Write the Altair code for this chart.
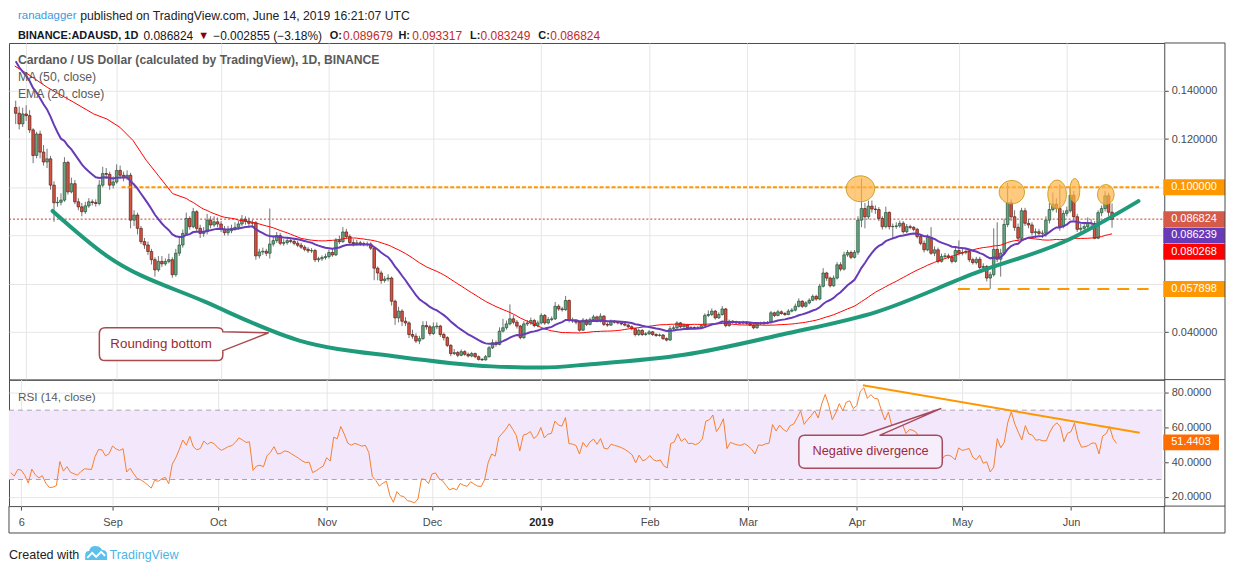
import altair as alt
import pandas as pd

FONT = "Liberation Sans, Arial, sans-serif"
W, H_MAIN, H_RSI = 1160, 338, 127
X_OUT = 1221
FRAME = "#4a4a4a"
GRID = "#e6e6e6"
AXIS_TXT = "#4a4a4a"

# ---------------- data ----------------
first_open = 0.1331
closes = [
    0.1307, 0.1263, 0.1304, 0.1297, 0.1238, 0.1132, 0.1221, 0.1146, 0.1105, 0.1118,
    0.1009, 0.0936, 0.0938, 0.0947, 0.1103, 0.0981, 0.1015, 0.0940, 0.0919, 0.0899,
    0.0923, 0.0940, 0.0937, 0.0933, 0.1009, 0.1057, 0.1054, 0.1009, 0.1022, 0.1070,
    0.1050, 0.1040, 0.1050, 0.0864, 0.0885, 0.0830, 0.0775, 0.0761, 0.0734, 0.0700,
    0.0658, 0.0693, 0.0683, 0.0693, 0.0700, 0.0638, 0.0727, 0.0761, 0.0809, 0.0871,
    0.0837, 0.0899, 0.0830, 0.0809, 0.0816, 0.0864, 0.0844, 0.0857, 0.0848, 0.0826,
    0.0812, 0.0820, 0.0830, 0.0834, 0.0848, 0.0868, 0.0860, 0.0851, 0.0853, 0.0716,
    0.0732, 0.0735, 0.0727, 0.0765, 0.0779, 0.0800, 0.0768, 0.0771, 0.0779, 0.0776,
    0.0768, 0.0760, 0.0752, 0.0743, 0.0737, 0.0738, 0.0700, 0.0704, 0.0709, 0.0713,
    0.0730, 0.0720, 0.0779, 0.0775, 0.0815, 0.0796, 0.0771, 0.0765, 0.0770, 0.0767,
    0.0763, 0.0765, 0.0748, 0.0665, 0.0645, 0.0614, 0.0620, 0.0624, 0.0528, 0.0459,
    0.0487, 0.0445, 0.0438, 0.0390, 0.0383, 0.0363, 0.0373, 0.0427, 0.0422, 0.0394,
    0.0422, 0.0425, 0.0390, 0.0377, 0.0345, 0.0311, 0.0315, 0.0304, 0.0319, 0.0308,
    0.0301, 0.0311, 0.0298, 0.0287, 0.0285, 0.0298, 0.0335, 0.0356, 0.0349, 0.0404,
    0.0418, 0.0434, 0.0455, 0.0441, 0.0425, 0.0377, 0.0434, 0.0438, 0.0448, 0.0427,
    0.0438, 0.0469, 0.0438, 0.0452, 0.0455, 0.0507, 0.0496, 0.0493, 0.0531, 0.0448,
    0.0446, 0.0441, 0.0408, 0.0450, 0.0432, 0.0452, 0.0463, 0.0445, 0.0466, 0.0432,
    0.0429, 0.0445, 0.0441, 0.0438, 0.0434, 0.0429, 0.0422, 0.0414, 0.0390, 0.0407,
    0.0390, 0.0393, 0.0401, 0.0390, 0.0386, 0.0388, 0.0373, 0.0367, 0.0414, 0.0418,
    0.0438, 0.0422, 0.0429, 0.0418, 0.0419, 0.0416, 0.0419, 0.0427, 0.0469, 0.0473,
    0.0487, 0.0459, 0.0473, 0.0496, 0.0427, 0.0445, 0.0441, 0.0438, 0.0437, 0.0441,
    0.0436, 0.0429, 0.0418, 0.0436, 0.0435, 0.0438, 0.0439, 0.0480, 0.0469, 0.0484,
    0.0477, 0.0473, 0.0487, 0.0491, 0.0507, 0.0528, 0.0507, 0.0521, 0.0532, 0.0548,
    0.0537, 0.0590, 0.0645, 0.0624, 0.0592, 0.0624, 0.0679, 0.0661, 0.0720, 0.0730,
    0.0710, 0.0731, 0.0864, 0.0912, 0.0878, 0.0922, 0.0910, 0.0908, 0.0871, 0.0837,
    0.0896, 0.0837, 0.0838, 0.0840, 0.0851, 0.0816, 0.0837, 0.0834, 0.0826, 0.0796,
    0.0768, 0.0741, 0.0793, 0.0727, 0.0741, 0.0693, 0.0713, 0.0716, 0.0710, 0.0693,
    0.0738, 0.0727, 0.0730, 0.0734, 0.0700, 0.0688, 0.0702, 0.0668, 0.0672, 0.0624,
    0.0638, 0.0743, 0.0702, 0.0727, 0.0846, 0.0936, 0.0878, 0.0834, 0.0789, 0.0903,
    0.0851, 0.0844, 0.0812, 0.0816, 0.0809, 0.0810, 0.0864, 0.0908, 0.0930, 0.0912,
    0.0837, 0.0892, 0.0903, 0.0967, 0.0878, 0.0826, 0.0830, 0.0837, 0.0851, 0.0850,
    0.0789, 0.0895, 0.0912, 0.0965, 0.089679, 0.086824,
]
highs = [
    0.1359, 0.1335, 0.1330, 0.1340, 0.1320, 0.1245, 0.1230, 0.1235, 0.1175, 0.1160,
    0.1130, 0.1025, 0.0960, 0.0975, 0.1125, 0.1110, 0.1040, 0.1030, 0.0955, 0.0935,
    0.0940, 0.0955, 0.0950, 0.0950, 0.1030, 0.1085, 0.1080, 0.1065, 0.1045, 0.1095,
    0.1090, 0.1065, 0.1070, 0.1060, 0.0905, 0.0895, 0.0840, 0.0790, 0.0775, 0.0745,
    0.0710, 0.0715, 0.0715, 0.0705, 0.0725, 0.0710, 0.0745, 0.0790, 0.0825, 0.0895,
    0.0880, 0.0915, 0.0905, 0.0845, 0.0835, 0.0890, 0.0880, 0.0880, 0.0875, 0.0860,
    0.0840, 0.0840, 0.0845, 0.0855, 0.0860, 0.0885, 0.0880, 0.0875, 0.0865, 0.0860,
    0.0745, 0.0750, 0.0745, 0.0912, 0.0800, 0.0815, 0.0810, 0.0785, 0.0790, 0.0790,
    0.0785, 0.0778, 0.0770, 0.0760, 0.0752, 0.0748, 0.0745, 0.0712, 0.0718, 0.0725,
    0.0742, 0.0745, 0.0790, 0.0800, 0.0835, 0.0828, 0.0805, 0.0785, 0.0782, 0.0778,
    0.0775, 0.0775, 0.0772, 0.0752, 0.0672, 0.0655, 0.0632, 0.0640, 0.0630, 0.0535,
    0.0505, 0.0495, 0.0462, 0.0445, 0.0410, 0.0395, 0.0385, 0.0445, 0.0445, 0.0430,
    0.0440, 0.0440, 0.0430, 0.0398, 0.0383, 0.0350, 0.0330, 0.0322, 0.0328, 0.0325,
    0.0315, 0.0318, 0.0315, 0.0303, 0.0292, 0.0305, 0.0342, 0.0370, 0.0365, 0.0420,
    0.0455, 0.0448, 0.0515, 0.0470, 0.0450, 0.0430, 0.0445, 0.0450, 0.0460, 0.0455,
    0.0448, 0.0478, 0.0475, 0.0462, 0.0465, 0.0525, 0.0515, 0.0505, 0.0550, 0.0535,
    0.0460, 0.0452, 0.0445, 0.0458, 0.0455, 0.0460, 0.0472, 0.0468, 0.0478, 0.0470,
    0.0440, 0.0452, 0.0450, 0.0446, 0.0443, 0.0440, 0.0434, 0.0428, 0.0418, 0.0415,
    0.0412, 0.0400, 0.0408, 0.0405, 0.0395, 0.0394, 0.0392, 0.0378, 0.0425, 0.0428,
    0.0445, 0.0442, 0.0436, 0.0434, 0.0425, 0.0424, 0.0425, 0.0434, 0.0478, 0.0490,
    0.0498, 0.0492, 0.0482, 0.0508, 0.0500, 0.0452, 0.0450, 0.0447, 0.0445, 0.0447,
    0.0446, 0.0440, 0.0432, 0.0442, 0.0443, 0.0445, 0.0446, 0.0488, 0.0485, 0.0492,
    0.0490, 0.0483, 0.0495, 0.0500, 0.0518, 0.0540, 0.0532, 0.0528, 0.0540, 0.0556,
    0.0555, 0.0600, 0.0665, 0.0650, 0.0630, 0.0635, 0.0690, 0.0690, 0.0733, 0.0740,
    0.0738, 0.0740, 0.0880, 0.1036, 0.0935, 0.0945, 0.0945, 0.0925, 0.0918, 0.0880,
    0.0920, 0.0900, 0.0850, 0.0855, 0.0862, 0.0860, 0.0848, 0.0845, 0.0840, 0.0832,
    0.0805, 0.0780, 0.0805, 0.0835, 0.0755, 0.0750, 0.0725, 0.0728, 0.0725, 0.0720,
    0.0752, 0.0780, 0.0745, 0.0745, 0.0740, 0.0708, 0.0712, 0.0712, 0.0685, 0.0678,
    0.0650, 0.0830, 0.0855, 0.0745, 0.0870, 0.1018, 0.0950, 0.0905, 0.0850, 0.0915,
    0.0915, 0.0870, 0.0855, 0.0830, 0.0828, 0.0822, 0.0880, 0.0935, 0.0978, 0.0955,
    0.1012, 0.0905, 0.0920, 0.1000, 0.0985, 0.0890, 0.0848, 0.0855, 0.0875, 0.0868,
    0.0860, 0.0905, 0.0925, 0.0985, 0.0978, 0.093317,
]
lows = [
    0.1262, 0.1240, 0.1250, 0.1275, 0.1225, 0.1100, 0.1120, 0.1120, 0.1090, 0.1080,
    0.0990, 0.0857, 0.0920, 0.0925, 0.0940, 0.0970, 0.0975, 0.0930, 0.0905, 0.0880,
    0.0890, 0.0915, 0.0925, 0.0920, 0.0925, 0.1000, 0.1035, 0.0990, 0.0995, 0.1015,
    0.1035, 0.1025, 0.1030, 0.0830, 0.0840, 0.0805, 0.0765, 0.0745, 0.0720, 0.0680,
    0.0630, 0.0650, 0.0670, 0.0675, 0.0685, 0.0625, 0.0630, 0.0715, 0.0750, 0.0800,
    0.0825, 0.0830, 0.0815, 0.0790, 0.0795, 0.0805, 0.0830, 0.0835, 0.0835, 0.0815,
    0.0800, 0.0800, 0.0810, 0.0820, 0.0825, 0.0840, 0.0845, 0.0840, 0.0840, 0.0700,
    0.0705, 0.0720, 0.0715, 0.0705, 0.0755, 0.0770, 0.0760, 0.0758, 0.0762, 0.0768,
    0.0760, 0.0752, 0.0745, 0.0735, 0.0728, 0.0728, 0.0690, 0.0690, 0.0695, 0.0700,
    0.0705, 0.0712, 0.0715, 0.0765, 0.0770, 0.0785, 0.0760, 0.0755, 0.0758, 0.0758,
    0.0755, 0.0755, 0.0740, 0.0615, 0.0615, 0.0600, 0.0605, 0.0610, 0.0510, 0.0430,
    0.0440, 0.0425, 0.0425, 0.0375, 0.0372, 0.0355, 0.0350, 0.0368, 0.0410, 0.0385,
    0.0388, 0.0412, 0.0380, 0.0365, 0.0338, 0.0300, 0.0305, 0.0296, 0.0300, 0.0302,
    0.0295, 0.0296, 0.0292, 0.0282, 0.0280, 0.0282, 0.0295, 0.0330, 0.0340, 0.0345,
    0.0398, 0.0410, 0.0428, 0.0432, 0.0415, 0.0370, 0.0372, 0.0425, 0.0430, 0.0420,
    0.0420, 0.0432, 0.0430, 0.0432, 0.0445, 0.0450, 0.0488, 0.0485, 0.0488, 0.0440,
    0.0438, 0.0432, 0.0402, 0.0405, 0.0425, 0.0428, 0.0448, 0.0440, 0.0440, 0.0425,
    0.0422, 0.0425, 0.0435, 0.0432, 0.0428, 0.0424, 0.0416, 0.0408, 0.0382, 0.0384,
    0.0384, 0.0385, 0.0388, 0.0384, 0.0380, 0.0381, 0.0368, 0.0362, 0.0365, 0.0408,
    0.0412, 0.0416, 0.0418, 0.0412, 0.0413, 0.0411, 0.0412, 0.0414, 0.0424, 0.0462,
    0.0466, 0.0452, 0.0455, 0.0468, 0.0420, 0.0422, 0.0435, 0.0433, 0.0432, 0.0432,
    0.0430, 0.0424, 0.0412, 0.0414, 0.0430, 0.0430, 0.0432, 0.0435, 0.0462, 0.0465,
    0.0472, 0.0467, 0.0470, 0.0482, 0.0486, 0.0502, 0.0500, 0.0502, 0.0515, 0.0528,
    0.0530, 0.0532, 0.0585, 0.0612, 0.0585, 0.0588, 0.0618, 0.0652, 0.0655, 0.0712,
    0.0702, 0.0705, 0.0720, 0.0835, 0.0830, 0.0868, 0.0895, 0.0890, 0.0860, 0.0825,
    0.0830, 0.0825, 0.0785, 0.0828, 0.0832, 0.0808, 0.0810, 0.0826, 0.0818, 0.0788,
    0.0760, 0.0730, 0.0735, 0.0720, 0.0715, 0.0685, 0.0688, 0.0705, 0.0702, 0.0685,
    0.0688, 0.0718, 0.0718, 0.0722, 0.0690, 0.0680, 0.0680, 0.0660, 0.0655, 0.0610,
    0.0579, 0.0630, 0.0690, 0.0630, 0.0720, 0.0835, 0.0860, 0.0820, 0.0775, 0.0780,
    0.0840, 0.0830, 0.0800, 0.0790, 0.0800, 0.0790, 0.0795, 0.0850, 0.0900, 0.0895,
    0.0820, 0.0830, 0.0880, 0.0895, 0.0865, 0.0815, 0.0815, 0.0815, 0.0830, 0.0838,
    0.0785, 0.0785, 0.0880, 0.0900, 0.0880, 0.083249,
]
first_date = "2018-08-03"

ema_seed = 0.1545
sma_early_dates = ["2018-08-02T17:00:00Z", "2018-08-06T12:00:00Z", "2018-08-12T02:00:00Z",
                   "2018-08-19T17:00:00Z", "2018-08-25T10:00:00Z", "2018-08-29T05:00:00Z",
                   "2018-09-01T22:00:00Z", "2018-09-05T17:00:00Z", "2018-09-09T12:00:00Z",
                   "2018-09-13T07:00:00Z", "2018-09-17T02:00:00Z"]
sma_early_vals = [0.1503, 0.1469, 0.1414, 0.1352, 0.1304, 0.1283, 0.1249, 0.1194, 0.1112, 0.1043, 0.0974]
rsi_seed_gain, rsi_seed_loss = 0.0020, 0.0037

# rounding-bottom curve
curve_dates = ["2018-08-13T14:00:00Z", "2018-08-29T04:00:00Z", "2018-09-26T12:00:00Z",
               "2018-10-23T12:00:00Z", "2018-11-20T20:00:00Z", "2018-12-17T19:00:00Z",
               "2019-01-01T00:00:00Z", "2019-01-15T05:00:00Z", "2019-02-11T02:00:00Z",
               "2019-03-11T12:00:00Z", "2019-04-07T10:00:00Z", "2019-05-05T19:00:00Z",
               "2019-06-01T19:00:00Z", "2019-06-21T14:00:00Z"]
curve_prices = [0.0902, 0.0716, 0.0525, 0.0365, 0.0298, 0.0258, 0.0253, 0.0267, 0.0306,
                0.0391, 0.0484, 0.0645, 0.0785, 0.0943]

# highlighted tops
top_dates = ["2019-04-02T17:00:00Z", "2019-05-16T05:00:00Z", "2019-05-29T05:00:00Z",
             "2019-06-03T07:00:00Z", "2019-06-12T05:00:00Z"]
top_prices = [0.0994, 0.0980, 0.0971, 0.0987, 0.0970]
top_rx = [14.3, 12.7, 9.3, 5.0, 8.3]      # style: ellipse radii in px
top_ry = [13.0, 11.7, 14.3, 12.0, 10.0]

# levels and tags
resistance = 0.10
resistance_span = ["2018-09-02T10:00:00Z", "2019-06-27T12:00:00Z"]
support = 0.057898
support_span = ["2019-04-30T17:00:00Z", "2019-06-24T12:00:00Z"]
last_close = 0.086824
ema_last = 0.086239
sma_last = 0.080268
rsi_last = 51.4403
rsi_trend_dates = ["2019-04-02T17:00:00Z", "2019-06-20T14:00:00Z"]
rsi_trend_vals = [84.4, 57.0]

rb_anchor = ("2018-09-13T18:30:00Z", 0.0352)
nd_anchor = ("2019-04-04T22:00:00Z", 46.3)

tick_dates = ["2018-08-06", "2018-09-01", "2018-10-01", "2018-11-01", "2018-12-01",
              "2019-01-01", "2019-02-01", "2019-03-01", "2019-04-01", "2019-05-01", "2019-06-01"]

# ---------------- derived tables ----------------
dates = list(pd.date_range(first_date, periods=len(closes), freq="D").strftime("%Y-%m-%d"))
opens = [first_open] + closes[:-1]
candles = pd.DataFrame({"date": dates, "open": opens, "close": closes, "high": highs, "low": lows})
candles["high"] = candles[["high", "open", "close"]].max(axis=1)
candles["low"] = candles[["low", "open", "close"]].min(axis=1)

alpha = 2.0 / 21.0
ema, prev = [], ema_seed
for c in closes:
    prev = prev + alpha * (c - prev)
    ema.append(prev)
ema_df = pd.DataFrame({"date": dates, "v": ema})

sma_roll = pd.Series(closes).rolling(50).mean()
sma_df = pd.concat([
    pd.DataFrame({"date": sma_early_dates, "v": sma_early_vals}),
    pd.DataFrame({"date": dates[49:], "v": list(sma_roll[49:])}),
], ignore_index=True)

ag, al, pc, rsi_vals = rsi_seed_gain, rsi_seed_loss, first_open, []
for c in closes:
    ch = c - pc
    ag = (ag * 13 + max(ch, 0.0)) / 14
    al = (al * 13 + max(-ch, 0.0)) / 14
    rsi_vals.append(100 - 100 / (1 + ag / al))
    pc = c
rsi_df = pd.DataFrame({"date": dates, "v": rsi_vals})


def dt(s, h=0, mi=0):
    y, m, d = s.split("-")
    return alt.DateTime(year=int(y), month=int(m), date=int(d), hours=h, minutes=mi, utc=True)


xscale = alt.Scale(type="utc", domain=[dt("2018-08-02", 12), dt("2019-06-27", 13, 40)])
tick_vals = [dt(s) for s in tick_dates]
x_axis_main = alt.Axis(values=tick_vals, labels=False, ticks=False, domain=False,
                       grid=True, gridColor=GRID, title=None)
is_year = "utcmonth(datum.value)==0 && utcdate(datum.value)==1"
x_axis_rsi = alt.Axis(
    values=tick_vals, grid=True, gridColor=GRID, domain=False, title=None,
    tickColor=FRAME, tickSize=4, labelPadding=6, labelFont=FONT, labelFontSize=11,
    labelColor={"condition": {"test": is_year, "value": "#222222"}, "value": AXIS_TXT},
    labelFontWeight={"condition": {"test": is_year, "value": "bold"}, "value": "normal"},
    labelFlush=False, labelOverlap=False, labelBound=False,
    labelExpr="utcdate(datum.value) != 1 ? utcFormat(datum.value, '%-d') : (utcmonth(datum.value) == 0 ? utcFormat(datum.value, '%Y') : utcFormat(datum.value, '%b'))",
)
yscale = alt.Scale(domain=[0.02031, 0.15981], nice=False, zero=False)
price_axis = alt.Axis(
    orient="right", values=[0.04, 0.06, 0.08, 0.10, 0.12, 0.14], title=None,
    labelExpr="(abs(datum.value-0.06)<1e-9 || abs(datum.value-0.08)<1e-9) ? '' : format(datum.value, '.6f')",
    grid=True, gridColor=GRID, domain=False, tickColor=FRAME, tickSize=4, labelPadding=3,
    labelColor=AXIS_TXT, labelFont=FONT, labelFontSize=11,
)
rscale = alt.Scale(domain=[14.66, 87.64], nice=False, zero=False)
rsi_axis = alt.Axis(orient="right", values=[20, 40, 60, 80], format=".4f", title=None,
                    grid=True, gridColor=GRID, domain=False, tickColor=FRAME, tickSize=4,
                    labelPadding=3, labelColor=AXIS_TXT, labelFont=FONT, labelFontSize=11)


def XM(f="date"):
    return alt.X(f"{f}:T", scale=xscale, axis=x_axis_main)


def XR(f="date"):
    return alt.X(f"{f}:T", scale=xscale, axis=x_axis_rsi)


def YM(f):
    return alt.Y(f"{f}:Q", scale=yscale, axis=price_axis)


def YR(f):
    return alt.Y(f"{f}:Q", scale=rscale, axis=rsi_axis)


def one():
    return pd.DataFrame({"k": [0]})


def txt(text, x, y, size=12.3, color="#222222", weight="normal", align="left"):
    return alt.Chart(pd.DataFrame({"t": [text]})).mark_text(
        align=align, baseline="middle", fontSize=size, color=color, fontWeight=weight, font=FONT
    ).encode(x=alt.value(x), y=alt.value(y), text="t:N")


def rule(x1, x2, y1, y2):
    return alt.Chart(one()).mark_rule(color=FRAME, strokeWidth=1).encode(
        x=alt.value(x1), x2=alt.value(x2), y=alt.value(y1), y2=alt.value(y2))


def ellipse_path(rx, ry):
    a, k = ry / rx, 0.5523
    return (f"M -1 0 C -1 {-k*a:.3f} {-k:.3f} {-a:.3f} 0 {-a:.3f} "
            f"C {k:.3f} {-a:.3f} 1 {-k*a:.3f} 1 0 "
            f"C 1 {k*a:.3f} {k:.3f} {a:.3f} 0 {a:.3f} "
            f"C {-k:.3f} {a:.3f} -1 {k*a:.3f} -1 0 Z")


def tag(value, color, off, x2, fmt, Yf):
    base = alt.Chart(pd.DataFrame({"v": [value]}))
    r = base.mark_rect(color=color, yOffset=off - 8, y2Offset=off + 8).encode(
        x=alt.value(W - 1), x2=alt.value(x2), y=Yf("v"), y2=alt.Y2("v"))
    t = base.mark_text(align="left", baseline="middle", color="white", fontSize=11,
                       font=FONT, yOffset=off).encode(
        x=alt.value(W + 7), y=Yf("v"), text=alt.Text("v:Q", format=fmt))
    return [r, t]


# ---------------- main (price) panel ----------------
cbase = alt.Chart(candles)
up = "datum.close >= datum.open"
wicks = cbase.mark_rule(color="#737375", strokeWidth=1).encode(x=XM(), y=YM("low"), y2=alt.Y2("high"))
bodies = cbase.mark_bar(width=2.6, strokeWidth=0.7).encode(
    x=XM(), y=YM("open"), y2=alt.Y2("close"),
    fill=alt.condition(up, alt.value("#6ba583"), alt.value("#d75442")),
    stroke=alt.condition(up, alt.value("#225437"), alt.value("#5b1a13")),
)

price_line = alt.Chart(pd.DataFrame({"v": [last_close]})).mark_rule(
    color="#c0392b", strokeWidth=1, strokeDash=[2, 2]).encode(x=alt.value(0), x2=alt.value(W), y=YM("v"))
res_line = alt.Chart(pd.DataFrame({"a": [resistance_span[0]], "b": [resistance_span[1]], "v": [resistance]})).mark_rule(
    color="#ff9800", strokeWidth=2, strokeDash=[4, 2]).encode(x=XM("a"), x2=alt.X2("b"), y=YM("v"))
sup_line = alt.Chart(pd.DataFrame({"a": [support_span[0]], "b": [support_span[1]], "v": [support]})).mark_rule(
    color="#ff9800", strokeWidth=2, strokeDash=[12, 8]).encode(x=XM("a"), x2=alt.X2("b"), y=YM("v"))

sma_line = alt.Chart(sma_df).mark_line(color="#ff0000", strokeWidth=1).encode(x=XM(), y=YM("v"))
ema_line = alt.Chart(ema_df).mark_line(color="#673ab7", strokeWidth=2).encode(x=XM(), y=YM("v"))
curve = alt.Chart(pd.DataFrame({"date": curve_dates, "v": curve_prices})).mark_line(
    color="#1f9a7b", strokeWidth=4, interpolate="monotone", strokeCap="round").encode(x=XM(), y=YM("v"))

tops = pd.DataFrame({"date": top_dates, "v": top_prices,
                     "shape": [ellipse_path(a, b) for a, b in zip(top_rx, top_ry)],
                     "sz": [(2 * a) ** 2 for a in top_rx]})
ellipses = alt.Chart(tops).mark_point(filled=True, fill="#ffb347", fillOpacity=0.7, opacity=1,
                                      stroke="#c9a227", strokeWidth=1).encode(
    x=XM(), y=YM("v"), shape=alt.Shape("shape:N", scale=None, legend=None),
    size=alt.Size("sz:Q", scale=None, legend=None))

rb_path = ("M -56 -16 L 56 -16 Q 62 -16 62 -12 L 108 -11 L 62 7 L 62 11 Q 62 17 56 17 "
           "L -56 17 Q -62 17 -62 11 L -62 -10 Q -62 -16 -56 -16 Z")
rb_df = pd.DataFrame({"date": [rb_anchor[0]], "v": [rb_anchor[1]], "t": ["Rounding bottom"]})
rb_box = alt.Chart(rb_df).mark_point(shape=rb_path, size=4, filled=True, fill="white", opacity=1,
                                     stroke="#a84a4e", strokeWidth=1.5).encode(x=XM(), y=YM("v"))
rb_txt = alt.Chart(rb_df).mark_text(fontSize=13.4, color="#9c2a2e", font=FONT, baseline="middle").encode(
    x=XM(), y=YM("v"), text="t:N")

main_layers = [price_line, wicks, bodies, res_line, sup_line, sma_line, ema_line, curve,
               ellipses, rb_box, rb_txt]
main_layers += tag(resistance, "#ff9800", 0, X_OUT, ".6f", YM)
main_layers += tag(last_close, "#d65a48", 0, X_OUT, ".6f", YM)
main_layers += tag(ema_last, "#673ab7", 15, X_OUT, ".6f", YM)
main_layers += tag(sma_last, "#ff0000", 17, X_OUT, ".6f", YM)
main_layers += tag(support, "#ff9800", 0, X_OUT, ".6f", YM)
main_layers += [
    txt("Cardano / US Dollar (calculated by TradingView), 1D, BINANCE", 9, 17.5, size=12.2,
        color="#5a5a5a", weight="bold"),
    txt("MA (50, close)", 9, 34.5, color="#5a5a5a"),
    txt("EMA (20, close)", 9, 51.5, color="#5a5a5a"),
    # header
    txt("ranadagger", 9, -27, size=11.5, color="#3d9ae0"),
    txt("published on TradingView.com, June 14, 2019 16:21:07 UTC", 71.5, -27, size=12.3, color="#222222"),
    txt("BINANCE:ADAUSD, 1D", 9, -7.5, size=11, color="#131722", weight="bold"),
    txt("0.086824", 135, -7.5, size=12, color="#131722"),
    txt("\u25bc", 190, -7.5, size=11, color="#8b0000"),
    txt("\u22120.002855 (\u22123.18%)", 205, -7.5, size=12, color="#131722"),
    txt("O:", 322, -7.5, size=11, color="#131722", weight="bold"),
    txt("0.089679", 335.5, -7.5, size=12, color="#c62828"),
    txt("H:", 391, -7.5, size=11, color="#131722", weight="bold"),
    txt("0.093317", 405, -7.5, size=12, color="#c62828"),
    txt("L:", 463, -7.5, size=11, color="#131722", weight="bold"),
    txt("0.083249", 473.5, -7.5, size=12, color="#c62828"),
    txt("C:", 531.5, -7.5, size=11, color="#131722", weight="bold"),
    txt("0.086824", 543.5, -7.5, size=12, color="#c62828"),
    # frame outside the plot area
    rule(W, X_OUT, 0, 0), rule(X_OUT, X_OUT, 0, H_MAIN), rule(W, X_OUT, H_MAIN, H_MAIN),
]
main = alt.layer(*main_layers).properties(width=W, height=H_MAIN)

# ---------------- RSI panel ----------------
band = alt.Chart(pd.DataFrame({"a": [70], "b": [30]})).mark_rect(color="#f3e8fb").encode(
    x=alt.value(0), x2=alt.value(W - 2), y=YR("a"), y2=alt.Y2("b"))
band_lines = alt.Chart(pd.DataFrame({"v": [70, 30]})).mark_rule(
    color="#a9a2b3", strokeWidth=1, strokeDash=[5, 4]).encode(x=alt.value(0), x2=alt.value(W - 2), y=YR("v"))
rsi_line = alt.Chart(rsi_df).mark_line(color="#f57f2f", strokeWidth=1).encode(x=XR(), y=YR("v"))
trend = alt.Chart(pd.DataFrame({"date": rsi_trend_dates, "v": rsi_trend_vals})).mark_line(
    color="#ff9800", strokeWidth=2).encode(x=XR(), y=YR("v"))

nd_path = ("M -66 -16 L -8 -16 L 71 -43 L 9 -16 L 66 -16 Q 72 -16 72 -10 L 72 11 Q 72 17 66 17 "
           "L -66 17 Q -72 17 -72 11 L -72 -10 Q -72 -16 -66 -16 Z")
nd_df = pd.DataFrame({"date": [nd_anchor[0]], "v": [nd_anchor[1]], "t": ["Negative divergence"]})
nd_box = alt.Chart(nd_df).mark_point(shape=nd_path, size=4, filled=True, fill="#f6eefa", opacity=1,
                                     stroke="#a84a5e", strokeWidth=1.5).encode(x=XR(), y=YR("v"))
nd_txt = alt.Chart(nd_df).mark_text(fontSize=12.8, color="#9c2a3e", font=FONT, baseline="middle").encode(
    x=XR(), y=YR("v"), text="t:N")

logo_cloud = ("M -11 6 L -11 1 Q -11 -3 -7 -3 Q -6 -8 -1 -8 Q 4 -8 6 -4 Q 11 -4 11 1 L 11 6 Z")
logo_zig = "M -9 4 L -4 -1 L 0 3 L 5 -2 L 9 2"
logo1 = alt.Chart(one()).mark_point(shape=logo_cloud, size=4, filled=True, fill="#5cc0ec", opacity=1,
                                    strokeWidth=0).encode(x=alt.value(87.5), y=alt.value(175))
logo2 = alt.Chart(one()).mark_point(shape=logo_zig, size=4, filled=False, stroke="white", opacity=1,
                                    strokeWidth=2).encode(x=alt.value(87.5), y=alt.value(175))

rsi_layers = [band, band_lines, rsi_line, trend, nd_box, nd_txt]
rsi_layers += tag(rsi_last, "#ff6d00", 0, X_OUT - 6, ".4f", YR)
rsi_layers += [
    txt("RSI (14, close)", 9, 17, size=11.8, color="#5a5a5a"),
    txt("Created with", 0, 176.5, size=12.6, color="#222222"),
    txt("TradingView", 101, 176.5, size=12.6, color="#4ab4e6"),
    logo1, logo2,
    rule(X_OUT, X_OUT, 0, 154), rule(W, X_OUT, H_RSI, H_RSI), rule(0, X_OUT, 154, 154),
    rule(0, 0, H_RSI, 154), rule(W, W, H_RSI, 154),
]
rsi = alt.layer(*rsi_layers).properties(width=W, height=H_RSI)

chart = alt.vconcat(main, rsi, spacing=0, bounds="flush").properties(
    padding={"left": 0, "top": 0, "right": 0, "bottom": 0}, background="white"
).configure_view(stroke=FRAME, strokeWidth=1)

chart.save("out.html", embed_options={"renderer": "svg", "actions": False})
